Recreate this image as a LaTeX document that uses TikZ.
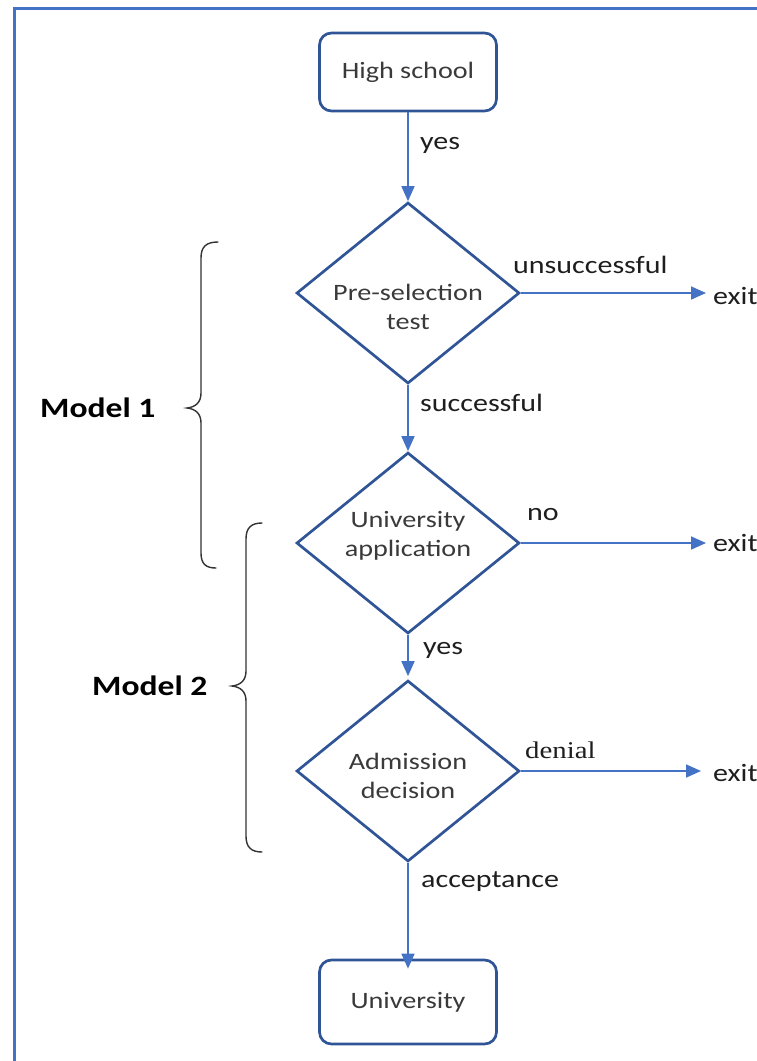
\documentclass[tikz,border=0pt]{standalone}
\usepackage{fontspec}
\setmainfont{Carlito}[FakeStretch=1.2]
\newfontfamily\serifx{Liberation Serif}[FakeStretch=1.2]
\usetikzlibrary{arrows.meta,shapes.geometric}
\definecolor{boxblue}{HTML}{2F5597}
\definecolor{arrblue}{HTML}{4472C4}
\definecolor{txtgray}{HTML}{3A3A3A}
\definecolor{lblblack}{HTML}{1E1E1E}
\begin{document}
\begin{tikzpicture}[x=1pt,y=-1pt,
  rbox/.style={draw=boxblue, line width=2.7pt, rounded corners=12pt, minimum width=177pt, text=txtgray, inner sep=0pt, font=\fontsize{23.5}{28}\selectfont},
  dia/.style={diamond, draw=boxblue, line width=2.7pt, minimum width=223pt, minimum height=181pt, inner sep=0pt},
  dtext/.style={align=center, text=txtgray, inner sep=0pt, font=\fontsize{23.5}{29}\selectfont},
  lbl/.style={anchor=west, inner sep=0pt, text=lblblack, font=\fontsize{25}{30}\selectfont},
  arr/.style={draw=arrblue, line width=1.7pt, -{Triangle[length=15pt,width=13pt]}},
  bracestyle/.style={draw=black!80, line width=1.4pt, line cap=round},
  modl/.style={anchor=west, inner sep=0pt, text=black, font=\bfseries\fontsize{28}{32}\selectfont}
]
\useasboundingbox (0,0) rectangle (756,1061);
% frame
\draw[arrblue, line width=3pt] (14.2,1065) -- (14.2,8.2) -- (760,8.2);

% nodes
\node[rbox, minimum height=78pt] (hs) at (408,72) {High school};
\node[dia] (d1) at (408,293) {};
\node[dtext] (t1) at (408,307) {Pre-selection\\test};
\node[dia] (d2) at (408,543) {};
\node[dtext] (t2) at (408,536) {University\\application};
\node[dia] (d3) at (408,771) {};
\node[dtext] (t3) at (408,776) {Admission\\decision};
\node[rbox, minimum height=84pt] (uni) at (408,1002) {University};

% exits
\node[lbl] (x1) at (713,296) {exit};
\node[lbl] (x2) at (713,543) {exit};
\node[lbl] (x3) at (713,773) {exit};

% connectors
\draw[arr] (hs.south) -- (d1.north);
\draw[arr] (d1.south) -- (d2.north);
\draw[arr] (d2.south) -- ([yshift=3pt]d3.north);
\draw[arr] (d3.south) -- ([yshift=-10pt]uni.north);
\draw[arr, shorten >=7pt] (d1.east) -- (d1.east -| x1.west);
\draw[arr, shorten >=7pt] (d2.east) -- (d2.east -| x2.west);
\draw[arr, shorten >=12pt] (d3.east) -- (d3.east -| x3.west);

% labels
\node[lbl] (l1) at (420,145) {yes};
\node[lbl] (l2) at (513,265) {unsuccessful};
\node[lbl] (l3) at (420,403) {successful};
\node[lbl] (l4) at (527,515) {no};
\node[lbl] (l5) at (423,650) {yes};
\node[lbl, font=\serifx\fontsize{24}{28}\selectfont] (l6) at (525,750) {denial};
\node[lbl] (l7) at (421,882) {acceptance};

% braces
\draw[bracestyle] (218,242) .. controls (206,242) and (201,247) .. (201,258)
  -- (201,393) .. controls (201,402) and (196,407) .. (187,408)
  .. controls (196,409) and (201,414) .. (201,423)
  -- (201,553) .. controls (201,564) and (206,568) .. (216,568);
\draw[bracestyle] (262,523) .. controls (251,523) and (246,528) .. (246,539)
  -- (246,671) .. controls (246,680) and (241,685) .. (232,686)
  .. controls (241,687) and (246,692) .. (246,701)
  -- (246,836) .. controls (246,847) and (251,852) .. (262,852);
\node[modl] (m1) at (40,408) {Model 1};
\node[modl] (m2) at (92,686) {Model 2};
\end{tikzpicture}
\end{document}
